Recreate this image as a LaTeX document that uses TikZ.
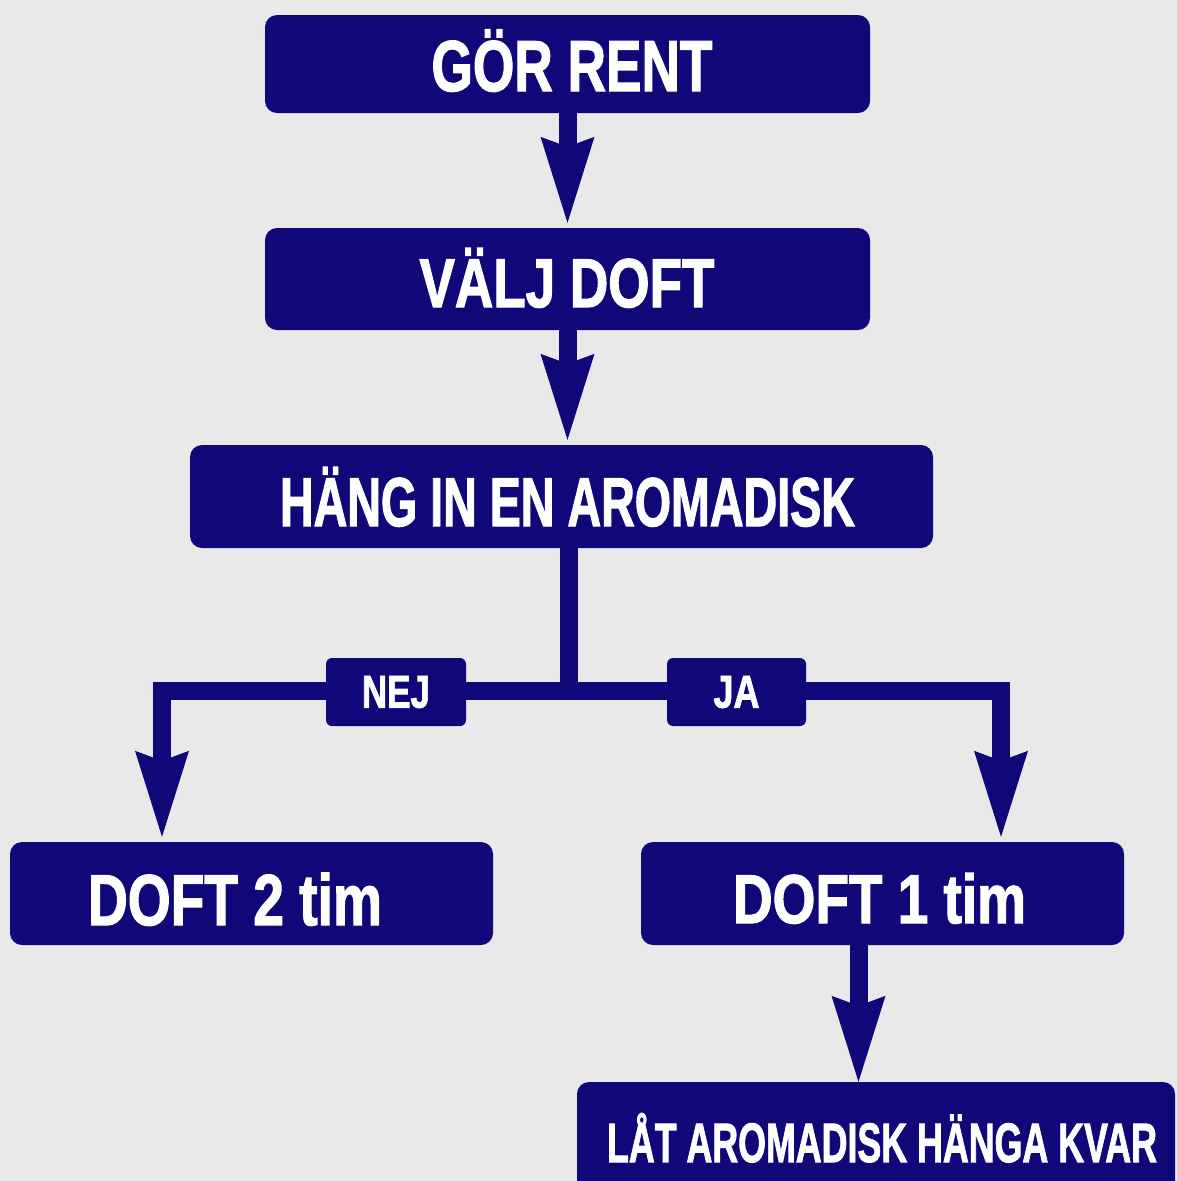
\documentclass[tikz,border=0pt]{standalone}
\usepackage{fontspec}
\setmainfont{Liberation Sans}[BoldFeatures={FakeBold=2}]
\usetikzlibrary{arrows.meta}
\definecolor{navy}{RGB}{16,8,120}
\definecolor{bg}{RGB}{233,233,233}
\newcommand\fitT[3]{{\fontsize{#1}{#1}\selectfont\bfseries\resizebox{#2}{\height}{#3}}}
\begin{document}
\begin{tikzpicture}[x=1pt,y=-1pt,
 box/.style={fill=navy, rounded corners=12pt, inner sep=0pt},
 txt/.style={text=white, inner sep=0pt, anchor=base},
 conn/.style={draw=navy, line width=18pt, line join=miter},
 tipd/.style={-{Stealth[length=86pt,width=54pt,inset=10pt,line width=0pt]}, shorten >=5pt},
 tag/.style={fill=navy, rounded corners=6pt, text=white, inner sep=0pt, minimum height=68pt}]
\fill[bg] (0,0) rectangle (1177,1181);
\useasboundingbox (0,0) rectangle (1177,1181);

% boxes
\node[box, minimum width=605pt, minimum height=98pt]  (b1) at (567.5,64) {};
\node[box, minimum width=605pt, minimum height=102pt] (b2) at (567.5,279) {};
\node[box, minimum width=743pt, minimum height=103pt] (b3) at (561.5,496.5) {};
\node[box, minimum width=483pt, minimum height=103pt] (b4) at (251.5,893.5) {};
\node[box, minimum width=483pt, minimum height=103pt] (b5) at (882.5,893.5) {};
\node[box, minimum width=598pt, minimum height=118pt] (b6) at (876,1141) {};

% texts
\node[txt] (t1) at (572,91)   {\fitT{72}{281pt}{GÖR RENT}};
\node[txt] (t2) at (567,307)  {\fitT{69}{295pt}{VÄLJ DOFT}};
\node[txt] (t3) at (567.5,526) {\fitT{69}{575pt}{HÄNG IN EN AROMADISK}};
\node[txt] (t4) at (235,925)  {\fitT{72}{294pt}{DOFT 2 tim}};
\node[txt] (t5) at (879.5,923) {\fitT{69}{293pt}{DOFT 1 tim}};
\node[txt] (t6) at (882,1162) {\fitT{55.5}{550pt}{LÅT AROMADISK HÄNGA KVAR}};

% connectors
\draw[conn,tipd] (b1.south) -- (b2.north);
\draw[conn,tipd] (b2.south) -- (b2.south |- b3.north);
\coordinate (jC) at (569,691);
\coordinate (jL) at (162,691);
\coordinate (jR) at (1001,691);
\draw[conn] (b3.south -| jC) -- (jC);
\draw[conn,tipd] (jC) -- (jL) -- (jL |- b4.north);
\draw[conn,tipd] (jC) -- (jR) -- (jR |- b5.north);
\coordinate (k) at (858.5,0);
\draw[conn,tipd,shorten >=0pt] (b5.south -| k) -- (b6.north -| k);

% branch tags
\node[tag, minimum width=140pt] (nej) at (396,692) {\fitT{46}{68pt}{NEJ}};
\node[tag, minimum width=139pt] (ja)  at (736.5,692) {\fitT{46}{46pt}{JA}};
\end{tikzpicture}
\end{document}
